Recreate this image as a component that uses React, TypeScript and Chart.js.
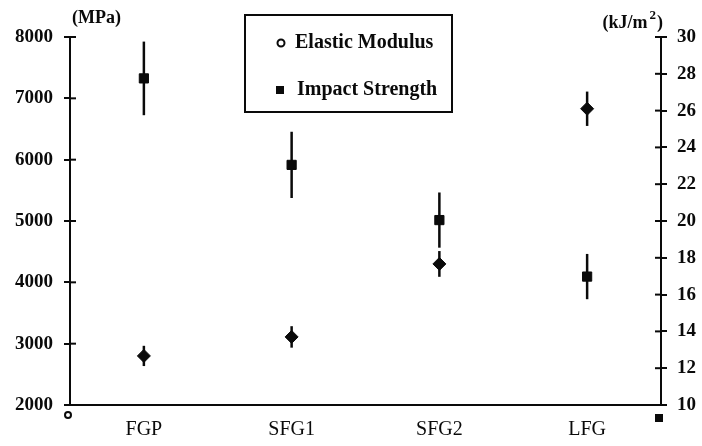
import React, { useEffect, useRef } from 'react';
import { Chart, registerables } from 'chart.js';

Chart.register(...registerables);

const categories = ['FGP', 'SFG1', 'SFG2', 'LFG'];
const modulusValues = [2800, 3110, 4300, 6830];
const modulusErrors = [165, 175, 210, 280];
const impactValues = [27.75, 23.05, 20.05, 16.98];
const impactErrors = [2.0, 1.8, 1.5, 1.23];
const modulusTicks = { min: 2000, max: 8000, step: 1000 };
const impactTicks = { min: 10, max: 30, step: 2 };
const seriesLabels = ['Elastic Modulus', 'Impact Strength'];
const leftUnit = '(MPa)';
const rightUnit = ['(kJ/m', '2', ')'];

const INK = '#0a0a0a';
const SERIF = '"Liberation Serif", "Times New Roman", serif';

const decor = {
  id: 'decor',
  beforeDatasetsDraw(chart: any) {
    const ctx = chart.ctx;
    chart.data.datasets.forEach((ds: any, di: number) => {
      const meta = chart.getDatasetMeta(di);
      const scale = chart.scales[ds.yAxisID];
      ctx.save();
      ctx.strokeStyle = INK;
      ctx.lineWidth = 2.5;
      meta.data.forEach((pt: any, i: number) => {
        const v = ds.data[i];
        const e = ds.errors[i];
        const y1 = scale.getPixelForValue(v + e);
        const y2 = scale.getPixelForValue(v - e);
        ctx.beginPath();
        ctx.moveTo(pt.x, y1);
        ctx.lineTo(pt.x, y2);
        ctx.stroke();
      });
      ctx.restore();
    });
  },
  afterDraw(chart: any) {
    const ctx = chart.ctx;
    const ca = chart.chartArea;
    const yl = chart.scales.y;
    const yr = chart.scales.y1;
    ctx.save();
    ctx.strokeStyle = INK;
    ctx.lineWidth = 2;
    yl.ticks.forEach((_t: any, i: number) => {
      const y = yl.getPixelForTick(i);
      if (Math.abs(y - ca.bottom) < 1) return;
      ctx.beginPath();
      ctx.moveTo(ca.left, y);
      ctx.lineTo(ca.left + 6, y);
      ctx.stroke();
    });
    yr.ticks.forEach((_t: any, i: number) => {
      const y = yr.getPixelForTick(i);
      if (Math.abs(y - ca.bottom) < 1) return;
      ctx.beginPath();
      ctx.moveTo(ca.right - 6, y);
      ctx.lineTo(ca.right, y);
      ctx.stroke();
    });

    // unit labels
    ctx.fillStyle = INK;
    ctx.textBaseline = 'middle';
    ctx.textAlign = 'left';
    ctx.font = `bold 18px ${SERIF}`;
    ctx.fillText(leftUnit, ca.left + 2, 18);
    const w0 = ctx.measureText(rightUnit[0]).width;
    ctx.font = `bold 13px ${SERIF}`;
    const w1 = ctx.measureText(rightUnit[1]).width;
    ctx.font = `bold 18px ${SERIF}`;
    const w2 = ctx.measureText(rightUnit[2]).width;
    let rx = ca.right + 2 - (w0 + w1 + 3 + w2);
    ctx.fillText(rightUnit[0], rx, 23);
    rx += w0 + 2;
    ctx.font = `bold 13px ${SERIF}`;
    ctx.fillText(rightUnit[1], rx, 16);
    rx += w1 + 1;
    ctx.font = `bold 18px ${SERIF}`;
    ctx.fillText(rightUnit[2], rx, 23);

    // legend box
    const bx = ca.left + 175;
    const by = 15;
    ctx.lineWidth = 2;
    ctx.strokeRect(bx, by, 207, 97);
    const labels = chart.data.datasets.map((d: any) => d.label);
    ctx.font = `bold 20px ${SERIF}`;
    ctx.beginPath();
    ctx.arc(bx + 36, 43, 3.5, 0, Math.PI * 2);
    ctx.stroke();
    ctx.fillText(labels[0], bx + 50, 43);
    ctx.fillRect(bx + 31, 86, 8, 8);
    ctx.fillText(labels[1], bx + 52, 90);

    // axis identifiers at the base of each axis
    ctx.beginPath();
    ctx.arc(ca.left - 2, ca.bottom + 10, 3, 0, Math.PI * 2);
    ctx.stroke();
    ctx.fillRect(ca.right - 6, ca.bottom + 9, 8, 8);
    ctx.restore();
  },
};

export default function App() {
  const ref = useRef<HTMLCanvasElement | null>(null);
  useEffect(() => {
    if (!ref.current) return;
    const chart = new Chart(ref.current, {
      type: 'line',
      data: {
        labels: categories,
        datasets: [
          {
            label: seriesLabels[0],
            data: modulusValues,
            errors: modulusErrors,
            yAxisID: 'y',
            showLine: false,
            pointStyle: 'rectRot',
            pointRadius: 6.5,
            pointBackgroundColor: INK,
            pointBorderColor: INK,
            pointBorderWidth: 1,
          } as any,
          {
            label: seriesLabels[1],
            data: impactValues,
            errors: impactErrors,
            yAxisID: 'y1',
            showLine: false,
            pointStyle: 'rect',
            pointRadius: 6.5,
            pointBackgroundColor: INK,
            pointBorderColor: INK,
            pointBorderWidth: 1,
          } as any,
        ],
      },
      options: {
        animation: false,
        responsive: true,
        maintainAspectRatio: false,
        layout: { padding: { top: 37, left: 0, right: 0, bottom: 0 } },
        plugins: { legend: { display: false }, tooltip: { enabled: false } },
        scales: {
          x: {
            type: 'category',
            offset: true,
            grid: { display: false, drawTicks: false },
            border: { display: true, color: INK, width: 2 },
            ticks: { color: INK, font: { family: SERIF, size: 20 }, padding: 13 },
            afterFit: (s: any) => { s.height = 41; },
          },
          y: {
            position: 'left',
            min: modulusTicks.min,
            max: modulusTicks.max,
            grid: { display: true, drawOnChartArea: false, drawTicks: true, tickLength: 6, color: INK, lineWidth: 2 },
            border: { display: true, color: INK, width: 2 },
            ticks: {
              stepSize: modulusTicks.step,
              color: INK,
              font: { family: SERIF, size: 19, weight: 'bold' },
              padding: 11,
              callback: (v: any) => String(v),
            },
            afterFit: (s: any) => { s.width = 70; },
          },
          y1: {
            position: 'right',
            min: impactTicks.min,
            max: impactTicks.max,
            grid: { display: true, drawOnChartArea: false, drawTicks: true, tickLength: 6, color: INK, lineWidth: 2 },
            border: { display: true, color: INK, width: 2 },
            ticks: {
              stepSize: impactTicks.step,
              color: INK,
              font: { family: SERIF, size: 19, weight: 'bold' },
              padding: 10,
              callback: (v: any) => String(v),
            },
            afterFit: (s: any) => { s.width = 41; },
          },
        },
      },
      plugins: [decor],
    } as any);
    return () => chart.destroy();
  }, []);
  return (
    <div style={{ position: 'absolute', left: 0, top: 0, width: 702, height: 446, background: '#fff' }}>
      <canvas ref={ref} />
    </div>
  );
}
